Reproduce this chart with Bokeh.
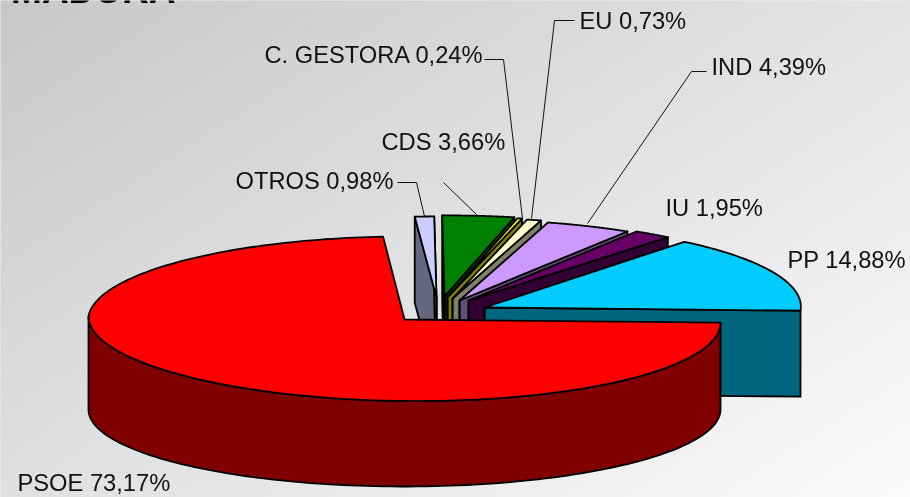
import math
import numpy as np
from bokeh.plotting import figure
from bokeh.models import Range1d
from bokeh.core.properties import value
from bokeh.embed import file_html
from bokeh.resources import INLINE

W, H = 910, 497

# ---- chart data ----
parties = ["PSOE", "OTROS", "CDS", "C. GESTORA", "EU", "IND", "IU", "PP"]
shares = [73.17, 0.98, 3.66, 0.24, 0.73, 4.39, 1.95, 14.88]
share_labels = ["73,17%", "0,98%", "3,66%", "0,24%", "0,73%", "4,39%", "1,95%", "14,88%"]

# ---- styles ----
top_colors = ["#FF0000", "#CCCCFF", "#008000", "#FFFF00", "#FFFFCC", "#CC99FF", "#660066", "#00CCFF"]
side_colors = ["#800000", "#666680", "#004000", "#808000", "#808066", "#664D80", "#330033", "#006680"]

# ---- layout of the exploded 3-D pie, screen pixels ----
apex_x = [404, 436, 444, 447, 452, 459, 468, 484]
apex_y = [319, 297, 296, 297, 298, 300, 300, 307]
ry_back = [83, 81, 81, 81, 81, 81, 81, 84]
RX, RY_FRONT, DEPTH, SHEAR, TILT = 316, 81.5, 86, 0.18, 0.01
BOTTOM_CY, BOTTOM_RY = 409, 77

FONT_PX = 23.7
TITLE_PX = 37
BASELINE_FIX = 0.36  # the svg text sits this many em below the requested baseline

label_x = [17, 235, 381, 264, 579, 711, 665, 787]
label_base = [491, 189, 150, 63, 29, 75, 216, 268]
leaders_x = {"OTROS": [397, 416, 424], "CDS": [443, 478], "C. GESTORA": [484, 503, 522],
             "EU": [574, 554, 531], "IND": [706, 691, 587]}
leaders_y = {"OTROS": [182, 182, 216], "CDS": [182, 216], "C. GESTORA": [59, 59, 218],
             "EU": [20, 20, 218], "IND": [71, 71, 223]}


def fy(y):
    return H - np.asarray(y, dtype=float)


def rim(i, a0, a1, n=60):
    """Points of slice i's rim between angles a0, a1 (degrees, clockwise on screen)."""
    t = np.radians(np.linspace(a0, a1, n))
    s = np.sin(t)
    ry = np.where(s > 0, RY_FRONT, ry_back[i])
    dx = RX * np.cos(t) - SHEAR * ry * np.minimum(s, 0)
    return apex_x[i] + dx, apex_y[i] + ry * s + TILT * RX * np.cos(t)


p = figure(width=W, height=H, output_backend="svg", toolbar_location=None,
           x_range=Range1d(0, W), y_range=Range1d(0, H), min_border=0)
p.styles = {"position": "fixed", "left": "0", "top": "0"}
p.axis.visible = False
p.grid.visible = False
p.outline_line_color = None
p.background_fill_color = "#e0e0e0"
p.border_fill_color = None

# background: diagonal grey gradient
gx, gy = np.meshgrid(np.linspace(0, 1, W // 2), np.linspace(0, 1, H // 2))  # row 0 = bottom of the plot
g = (200 + 28 * gx + 24 * (1 - gy)).astype(np.uint32)
img = (255 << 24) | (g << 16) | (g << 8) | g
p.image_rgba(image=[img.astype(np.uint32)], x=-3, y=-3, dw=W + 6, dh=H + 6)

OUT = dict(line_color="black", line_width=1.8, line_join="round")

# slices' angles come from the shares
ends = np.cumsum(shares) * 3.6
starts = np.concatenate([[0], ends[:-1]])

# back-to-front: rear slices first, then PP, PSOE on top
for i in [1, 2, 3, 4, 5, 6, 7]:
    ax, ay = apex_x[i], apex_y[i]
    rx0, ry0 = rim(i, starts[i], starts[i], 2)
    rx1, ry1 = rim(i, ends[i], ends[i], 2)
    if rx0[0] < ax - 1:  # start cut faces the viewer only when it points left
        p.patch([ax, rx0[0], rx0[0], ax], fy([ay, ry0[0], ry0[0] + DEPTH, ay + DEPTH]),
                fill_color=side_colors[i], **OUT)
    p.patch([ax, rx1[0], rx1[0], ax], fy([ay, ry1[0], ry1[0] + DEPTH, ay + DEPTH]),
            fill_color=side_colors[i], **OUT)
    p.line([ax, ax], fy([ay, ay + DEPTH]), line_color="black", line_width=1.8)
    ax_, ay_ = rim(i, starts[i], ends[i])
    p.patch(np.r_[ax, ax_], fy(np.r_[ay, ay_]), fill_color=top_colors[i], **OUT)

# PSOE: outer rim (its lower edge is a flatter ellipse), then top
rx_, ry_ = rim(0, 0, 180, 120)
tb = np.radians(np.linspace(180, 0, 120))
bx = apex_x[0] + RX * np.cos(tb)
by = BOTTOM_CY + BOTTOM_RY * np.sin(tb)
p.patch(np.r_[rx_, bx], fy(np.r_[ry_, by]), fill_color=side_colors[0], **OUT)
rx_, ry_ = rim(0, starts[0], ends[0], 200)
p.patch(np.r_[apex_x[0], rx_], fy(np.r_[apex_y[0], ry_]), fill_color=top_colors[0], **OUT)

# leader lines
for name in leaders_x:
    p.line(leaders_x[name], fy(leaders_y[name]), line_color="#111111", line_width=1)

# labels
FONT = value("Liberation Sans")
for i, name in enumerate(parties):
    p.text([label_x[i]], fy([label_base[i] - BASELINE_FIX * FONT_PX]), text=[f"{name} {share_labels[i]}"],
           text_font=FONT, text_font_size=f"{FONT_PX}px", text_color="#111111",
           text_align="left", text_baseline="alphabetic")

# title, cut off by the top of the picture
p.text([175], fy([3 - BASELINE_FIX * TITLE_PX]), text=["MADURA"], text_font=FONT, text_font_size=f"{TITLE_PX}px",
       text_font_style="bold", text_color="black", text_align="right", text_baseline="alphabetic")

open("out.html", "w").write(file_html(p, INLINE))
